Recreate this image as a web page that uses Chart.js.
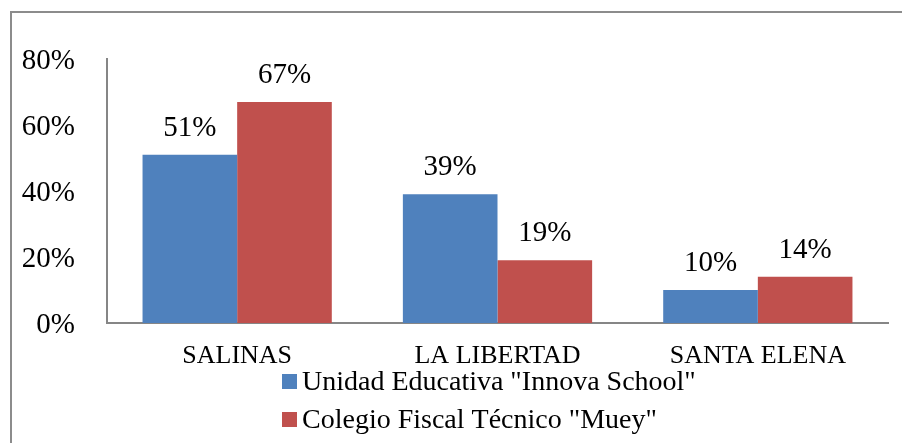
<!DOCTYPE html>
<html>
<head>
<meta charset="utf-8">
<script src="https://cdn.jsdelivr.net/npm/chart.js@4/dist/chart.umd.min.js"></script>
<style>
html,body{margin:0;padding:0;background:#fff;}
#wrap{width:902px;height:443px;position:relative;}
</style>
</head>
<body>
<div id="wrap"><canvas id="c" width="902" height="443"></canvas></div>
<script>
const categories = ["SALINAS", "LA LIBERTAD", "SANTA ELENA"];
const seriesNames = ['Unidad Educativa "Innova School"', 'Colegio Fiscal Técnico "Muey"'];
const innovaValues = [51, 39, 10];
const mueyValues = [67, 19, 14];
const yTicks = [0, 20, 40, 60, 80];
const colors = ["#4F81BD", "#C0504D"];
const serif = "'Liberation Serif', 'Times New Roman', serif";

const framePlugin = {
  id: 'frame',
  beforeDraw(chart) {
    const ctx = chart.ctx;
    ctx.save();
    ctx.fillStyle = '#fff';
    ctx.fillRect(0, 0, chart.width, chart.height);
    ctx.strokeStyle = '#8C8C8C';
    ctx.lineWidth = 2;
    ctx.beginPath();
    ctx.moveTo(11, chart.height + 5);
    ctx.lineTo(11, 12);
    ctx.lineTo(chart.width + 5, 12);
    ctx.stroke();
    ctx.restore();
  }
};

const labelPlugin = {
  id: 'valueLabels',
  afterDatasetsDraw(chart) {
    const ctx = chart.ctx;
    ctx.save();
    ctx.font = "29px " + serif;
    ctx.fillStyle = '#000';
    ctx.textAlign = 'center';
    ctx.textBaseline = 'alphabetic';
    chart.data.datasets.forEach((ds, i) => {
      chart.getDatasetMeta(i).data.forEach((bar, j) => {
        ctx.fillText(ds.data[j] + '%', bar.x, bar.y - 19);
      });
    });
    ctx.restore();
  }
};

const legendPlugin = {
  id: 'stackLegend',
  afterDraw(chart) {
    const ctx = chart.ctx;
    ctx.save();
    ctx.font = "28px " + serif;
    ctx.textAlign = 'left';
    ctx.textBaseline = 'alphabetic';
    chart.data.datasets.forEach((ds, i) => {
      const base = 390 + i * 38;
      ctx.fillStyle = ds.backgroundColor;
      ctx.fillRect(282, base - 16, 15, 15);
      ctx.fillStyle = '#000';
      ctx.fillText(ds.label, 302, base);
    });
    ctx.restore();
  }
};

new Chart(document.getElementById('c'), {
  type: 'bar',
  data: {
    labels: categories,
    datasets: [
      { label: seriesNames[0], data: innovaValues, backgroundColor: colors[0] },
      { label: seriesNames[1], data: mueyValues, backgroundColor: colors[1] }
    ]
  },
  options: {
    responsive: false,
    animation: false,
    devicePixelRatio: 1,
    layout: { padding: { left: 10, right: 14, top: 59, bottom: 0 } },
    datasets: { bar: { categoryPercentage: 0.727, barPercentage: 1.0 } },
    plugins: { legend: { display: false }, tooltip: { enabled: false } },
    scales: {
      x: {
        grid: { display: false },
        border: { display: true, color: '#868686', width: 2 },
        ticks: { color: '#000', font: { family: serif, size: 26 }, padding: 10, maxRotation: 0 },
        afterFit(s) { s.height = 120; }
      },
      y: {
        min: 0, max: 80,
        afterBuildTicks(s) { s.ticks = yTicks.map(v => ({ value: v })); },
        grid: { display: false },
        border: { display: true, color: '#868686', width: 2 },
        ticks: { color: '#000', font: { family: serif, size: 29 }, padding: 24, labelOffset: 2, callback: v => v + '%' },
        afterFit(s) { s.width = 97; }
      }
    }
  },
  plugins: [framePlugin, labelPlugin, legendPlugin]
});
</script>
</body>
</html>
